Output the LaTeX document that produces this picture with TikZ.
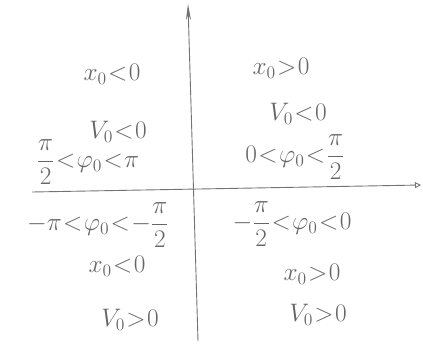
\documentclass[tikz,border=0pt]{standalone}
\usetikzlibrary{arrows.meta}
\newcommand{\hw}[1]{\scalebox{1.22}{$#1$}}
\newcommand{\hf}[2]{{\displaystyle\frac{#1}{#2}}}
\begin{document}
\thickmuskip=1mu\relax
\medmuskip=0.5mu\relax
\begin{tikzpicture}[x=1pt,y=-1pt,
  pencil/.style={draw=black!55, line width=0.9pt},
  lbl/.style={text=black!60, font=\huge, inner sep=0pt}]
\useasboundingbox (0,0) rectangle (423,346);
% axes
\coordinate (xs) at (32,192);
\coordinate (xe) at (421,185);
\coordinate (ys) at (198,341);
\coordinate (ye) at (188,4);
\draw[pencil,-{Triangle[open,length=6pt,width=6pt]}] (xs) -- (xe);
\draw[pencil,-{Stealth[length=16pt,width=5pt]}] (ys) -- (ye);
% top-left
\node[lbl] (tl1) at (112,74) {\hw{x_0<0}};
\node[lbl] (tl2) at (118,132) {\hw{V_0<0}};
\node[lbl] (tl3) at (88,162) {\hw{\hf{\pi}{2}<\varphi_0<\pi}};
% top-right
\node[lbl] (tr1) at (281,68) {\hw{x_0>0}};
\node[lbl] (tr2) at (298,114) {\hw{V_0<0}};
\node[lbl] (tr3) at (295,157) {\hw{0<\varphi_0<\hf{\pi}{2}}};
% bottom-left
\node[lbl] (bl1) at (98,225) {\hw{-\pi<\varphi_0<-\hf{\pi}{2}}};
\node[lbl] (bl2) at (117,266) {\hw{x_0<0}};
\node[lbl] (bl3) at (130,320) {\hw{V_0>0}};
% bottom-right
\node[lbl] (br1) at (292,224) {\hw{-\hf{\pi}{2}<\varphi_0<0}};
\node[lbl] (br2) at (312,274) {\hw{x_0>0}};
\node[lbl] (br3) at (318,315) {\hw{V_0>0}};
\end{tikzpicture}
\end{document}
